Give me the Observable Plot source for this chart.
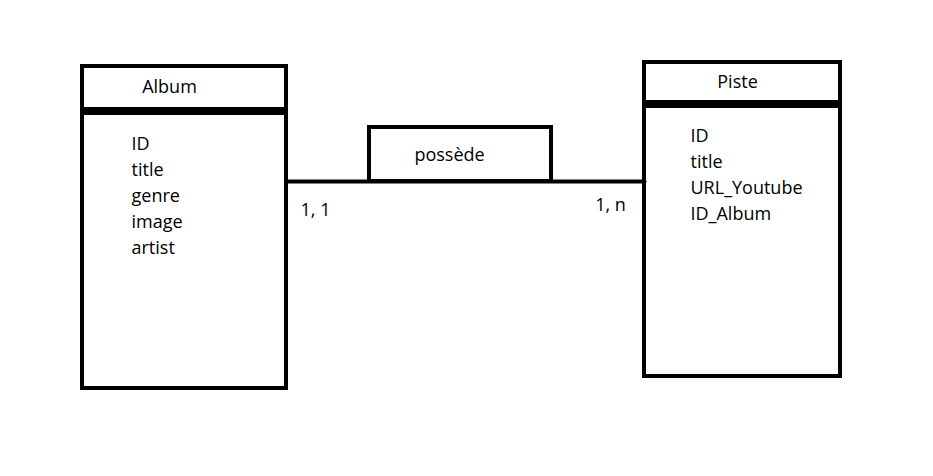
<!DOCTYPE html>
<html><head><meta charset="utf-8">
<script src="https://cdn.jsdelivr.net/npm/d3@7"></script>
<script src="https://cdn.jsdelivr.net/npm/@observablehq/plot@0.6"></script>
<style>body{margin:0;background:#fff}</style>
</head><body><div id="c"></div>
<script>
const entities = ["Album", "Piste"];
const albumAttrs = ["ID", "title", "genre", "image", "artist"];
const pisteAttrs = ["ID", "title", "URL_Youtube", "ID_Album"];
const relation = "possède";
const cardinalities = ["1, 1", "1, n"];

// layout (pixel space)
const L = {
  Album: {x1: 82, x2: 286, y1: 66, y2: 388, hy1: 107, hy2: 115, tx: 169, ty: 87, ax: 131, ay: 144},
  Piste: {x1: 644, x2: 840, y1: 62, y2: 376, hy1: 100, hy2: 108, tx: 737, ty: 82, ax: 690, ay: 136}
};
const rel = {x1: 369, x2: 551, y1: 127, y2: 181, tx: 449, ty: 155};
const card = [{x: 315, y: 210}, {x: 610, y: 205}];
const lineH = 26;

const boxes = entities.map(e => ({...L[e], name: e}));
const attrs = [
  ...albumAttrs.map((a, i) => ({t: a, x: L.Album.ax, y: L.Album.ay + i * lineH})),
  ...pisteAttrs.map((a, i) => ({t: a, x: L.Piste.ax, y: L.Piste.ay + i * lineH}))
];
const link = [{x: L.Album.x2, y: rel.y2}, {x: L.Piste.x1, y: rel.y2}];
const font = "Open Sans, sans-serif";

const chart = Plot.plot({
  width: 933, height: 476, margin: 0,
  x: {domain: [0, 933], range: [0, 933], axis: null},
  y: {domain: [0, 476], range: [0, 476], axis: null},
  style: {fontFamily: font, background: "#fff"},
  marks: [
    Plot.rect(boxes, {x1: "x1", x2: "x2", y1: "y1", y2: "y2", fill: "none", stroke: "black", strokeWidth: 4}),
    Plot.rect(boxes, {x1: "x1", x2: "x2", y1: "hy1", y2: "hy2", fill: "black"}),
    Plot.rect([rel], {x1: "x1", x2: "x2", y1: "y1", y2: "y2", fill: "none", stroke: "black", strokeWidth: 4}),
    Plot.line(link, {x: "x", y: "y", stroke: "black", strokeWidth: 4}),
    Plot.text(boxes, {x: "tx", y: "ty", text: "name", fontSize: 18, fill: "black"}),
    Plot.text([rel], {x: "tx", y: "ty", text: () => relation, fontSize: 18, fill: "black"}),
    Plot.text(attrs, {x: "x", y: "y", text: "t", textAnchor: "start", fontSize: 18, fill: "black"}),
    Plot.text(card, {x: "x", y: "y", text: (d, i) => cardinalities[i], fontSize: 18, fill: "black"})
  ]
});
document.getElementById("c").append(chart);
</script></body></html>
